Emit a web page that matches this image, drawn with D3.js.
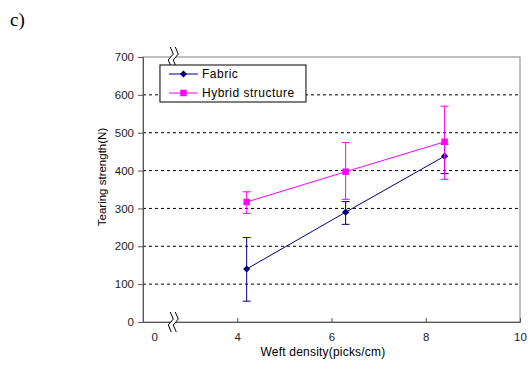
<!DOCTYPE html>
<html>
<head>
<meta charset="utf-8">
<script src="https://cdn.jsdelivr.net/npm/d3@7"></script>
<style>
  body { margin: 0; background: #fff; }
  svg { display: block; font-family: "Liberation Sans", Arial, sans-serif; }
</style>
</head>
<body>
<svg id="chart" width="532" height="367"></svg>
<script>
// data
const densities = [4.2, 6.3, 8.4]
const fabricMean = [140, 290, 438]
const fabricLow = [55, 258, 392]
const fabricHigh = [223, 318, 470]
const hybridMean = [317, 397, 476]
const hybridLow = [287, 324, 377]
const hybridHigh = [344, 474, 570]
const yTicks = [0, 100, 200, 300, 400, 500, 600, 700]
const xTicks = [4, 6, 8, 10]
const seriesNames = ['Fabric', 'Hybrid structure']

const svg = d3.select('#chart')
const width = 532, height = 367
const margin = { top: 57, right: 12, bottom: 45, left: 143 }
const innerW = width - margin.left - margin.right
const innerH = height - margin.top - margin.bottom

const x = d3.scaleLinear().domain([2, 10]).range([0, innerW])
const y = d3.scaleLinear().domain([0, 700]).range([innerH, 0])

svg.append('text')
  .attr('x', 10).attr('y', 26)
  .attr('font-family', '"Liberation Serif", "Times New Roman", serif')
  .attr('font-size', 19)
  .text('c)')

const g = svg.append('g').attr('transform', `translate(${margin.left},${margin.top})`)

// grid
g.append('g')
  .selectAll('line')
  .data(yTicks.filter(t => t > 0 && t < 700))
  .enter().append('line')
  .attr('x1', 0).attr('x2', innerW)
  .attr('y1', d => y(d)).attr('y2', d => y(d))
  .attr('stroke', '#000').attr('stroke-width', 1)
  .attr('stroke-dasharray', '3,3')

// frame
g.append('rect')
  .attr('width', innerW).attr('height', innerH)
  .attr('fill', 'none').attr('stroke', '#808080')

// axes
const yAxis = g.append('g')
  .call(d3.axisLeft(y).tickValues(yTicks).tickSize(5).tickPadding(4))
const xAxis = g.append('g').attr('transform', `translate(0,${innerH})`)
  .call(d3.axisBottom(x).tickValues(xTicks).tickSize(-4).tickPadding(11))
for (const ax of [xAxis, yAxis]) {
  ax.select('.domain').attr('stroke', '#555')
  ax.selectAll('.tick line').attr('stroke', '#555')
  ax.selectAll('.tick text').attr('font-size', 11.5).attr('fill', '#222')
    .attr('font-family', '"Liberation Sans", Arial, sans-serif')
}
// the "0" label left of the axis break
xAxis.append('text')
  .attr('x', x(2.25)).attr('y', 19)
  .attr('text-anchor', 'middle').attr('font-size', 11.5).attr('fill', '#222')
  .text('0')

// axis break marks
function breakMark(cx, cy) {
  const b = g.append('g').attr('transform', `translate(${cx},${cy})`)
  b.append('path').attr('d', 'M-1,-10 L2,-3 L-3,3 L0,10 L5,10 L2,3 L7,-3 L4,-10 Z')
    .attr('fill', '#fff').attr('stroke', 'none')
  b.append('path').attr('d', 'M-1,-10 L2,-3 L-3,3 L0,10').attr('fill', 'none').attr('stroke', '#000')
  b.append('path').attr('d', 'M4,-10 L7,-3 L2,3 L5,10').attr('fill', 'none').attr('stroke', '#000')
}
breakMark(x(2.6), 0)
breakMark(x(2.6), innerH)

const series = [
  { name: seriesNames[0], color: '#000080', mean: fabricMean, low: fabricLow, high: fabricHigh, rot: 45, size: 26 },
  { name: seriesNames[1], color: '#ff00ff', mean: hybridMean, low: hybridLow, high: hybridHigh, rot: 0, size: 42 }
]

const line = d3.line().x(d => x(d[0])).y(d => y(d[1]))

for (const s of series) {
  const pts = densities.map((d, i) => [d, s.mean[i], s.low[i], s.high[i]])
  const sg = g.append('g')
  // error bars
  sg.selectAll('.eb').data(pts).enter().append('path')
    .attr('d', d => `M${x(d[0])},${y(d[2])}V${y(d[3])}M${x(d[0]) - 4},${y(d[2])}h8M${x(d[0]) - 4},${y(d[3])}h8`)
    .attr('stroke', s.color).attr('fill', 'none').attr('stroke-width', 1)
  sg.append('path').datum(pts).attr('d', line)
    .attr('fill', 'none').attr('stroke', s.color).attr('stroke-width', 1)
  sg.selectAll('.pt').data(pts).enter().append('path')
    .attr('d', d3.symbol().type(d3.symbolSquare).size(s.size))
    .attr('transform', d => `translate(${x(d[0])},${y(d[1])}) rotate(${s.rot})`)
    .attr('fill', s.color)
}

// legend
const legend = g.append('g').attr('transform', `translate(${x(2.36)},8)`)
legend.append('rect').attr('width', 146).attr('height', 37)
  .attr('fill', '#fff').attr('stroke', '#000')
series.forEach((s, i) => {
  const ly = 9 + i * 19
  legend.append('line').attr('x1', 9).attr('x2', 38).attr('y1', ly).attr('y2', ly)
    .attr('stroke', s.color)
  legend.append('path').attr('d', d3.symbol().type(d3.symbolSquare).size(s.size))
    .attr('transform', `translate(23.5,${ly}) rotate(${s.rot})`).attr('fill', s.color)
  legend.append('text').attr('x', 42).attr('y', ly + 4)
    .attr('font-size', 12).attr('letter-spacing', 0.5).text(s.name)
})

// axis titles
svg.append('text')
  .attr('transform', `translate(106,${margin.top + 120}) rotate(-90)`)
  .attr('text-anchor', 'middle').attr('font-size', 11.5)
  .text('Tearing strength(N)')
svg.append('text')
  .attr('x', 323).attr('y', 356)
  .attr('text-anchor', 'middle').attr('font-size', 12).attr('letter-spacing', 0.2)
  .text('Weft density(picks/cm)')
</script>
</body>
</html>
